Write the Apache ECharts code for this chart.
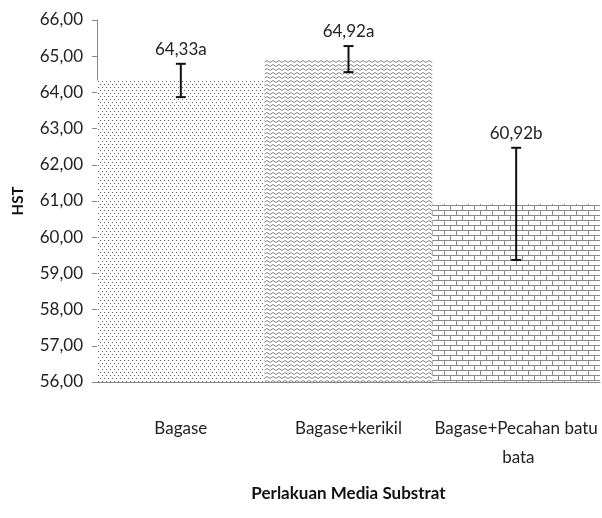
<!DOCTYPE html>
<html><head><meta charset="utf-8">
<script src="https://cdn.jsdelivr.net/npm/echarts@6/dist/echarts.min.js"></script>
<style>html,body{margin:0;padding:0;background:#fff}#c{width:602px;height:518px}</style>
</head><body><div id="c"></div>
<script>
const categories = ['Bagase', 'Bagase+kerikil', 'Bagase+Pecahan batu bata'];
const values = [64.33, 64.92, 60.92];
const errors = [0.46, 0.36, 1.55];
const letters = ['a', 'a', 'b'];
const yTicks = {min: 56, max: 66, interval: 1};

const FONT = 'Lato, "Open Sans", sans-serif';

function makePattern(kind) {
  const c = document.createElement('canvas');
  const ctx = c.getContext('2d');
  if (kind === 'dots') {
    c.width = 4; c.height = 6;
    ctx.fillStyle = '#fff'; ctx.fillRect(0,0,4,6);
    ctx.fillStyle = '#666';
    ctx.fillRect(0,0,1,1); ctx.fillRect(2,3,1,1);
  } else if (kind === 'zigzag') {
    c.width = 6; c.height = 4;
    ctx.fillStyle = '#fff'; ctx.fillRect(0,0,6,4);
    ctx.strokeStyle = '#888'; ctx.lineWidth = 1;
    ctx.beginPath(); ctx.moveTo(0,2.5); ctx.lineTo(3,0.5); ctx.lineTo(6,2.5); ctx.stroke();
  } else {
    c.width = 12; c.height = 10;
    ctx.fillStyle = '#fff'; ctx.fillRect(0,0,12,10);
    ctx.fillStyle = '#8a8a8a';
    ctx.fillRect(0,0,12,1); ctx.fillRect(0,5,12,1);
    ctx.fillRect(0,0,1,5); ctx.fillRect(6,5,1,5);
  }
  return {image: c, repeat: 'repeat'};
}
const patterns = [makePattern('dots'), makePattern('zigzag'), makePattern('brick')];

const errData = values.map((v, i) => [i, v - errors[i], v + errors[i], v.toFixed(2).replace('.', ',') + letters[i]]);

const chart = echarts.init(document.getElementById('c'), null, {renderer: 'canvas'});
chart.setOption({
  animation: false,
  grid: {left: 97, right: 1, top: 20, bottom: 136},
  xAxis: {
    type: 'category', data: categories,
    axisLine: {lineStyle: {color: '#888'}},
    axisTick: {show: false},
    axisLabel: {color: '#222', fontFamily: FONT, fontSize: 17, margin: 32, width: 166, overflow: 'break', lineHeight: 29, interval: 0},
    name: 'Perlakuan Media Substrat', nameLocation: 'middle', nameGap: 103,
    nameTextStyle: {color: '#111', fontFamily: FONT, fontSize: 17, fontWeight: 'bold'}
  },
  yAxis: {
    type: 'value', min: yTicks.min, max: yTicks.max, interval: yTicks.interval,
    axisLine: {show: true, lineStyle: {color: '#888'}},
    axisTick: {show: true, length: 5, lineStyle: {color: '#888'}},
    splitLine: {show: false},
    axisLabel: {color: '#222', fontFamily: FONT, fontSize: 17, margin: 14, formatter: v => v.toFixed(2).replace('.', ',')},
    name: 'HST', nameLocation: 'middle', nameGap: 71, nameRotate: 90,
    nameTextStyle: {color: '#111', fontFamily: FONT, fontSize: 15, fontWeight: 'bold'}
  },
  series: [{
    type: 'bar', barCategoryGap: 0, barGap: 0,
    data: values.map((v, i) => ({value: v, itemStyle: {color: patterns[i]}})),
    z: 1
  }, {
    type: 'custom', data: errData, z: 5,
    renderItem: function (params, api) {
      const x = api.value(0);
      const lo = api.coord([x, api.value(1)]);
      const hi = api.coord([x, api.value(2)]);
      const cap = 5;
      const ls = {stroke: '#111', lineWidth: 2};
      return {type: 'group', children: [
        {type: 'line', shape: {x1: hi[0], y1: hi[1], x2: lo[0], y2: lo[1]}, style: ls},
        {type: 'line', shape: {x1: hi[0]-cap, y1: hi[1], x2: hi[0]+cap, y2: hi[1]}, style: ls},
        {type: 'line', shape: {x1: lo[0]-cap, y1: lo[1], x2: lo[0]+cap, y2: lo[1]}, style: ls},
        {type: 'text', x: hi[0], y: hi[1] - 6, style: {text: api.value(3), fill: '#222', font: '17px ' + FONT, textAlign: 'center', textVerticalAlign: 'bottom'}}
      ]};
    }
  }]
});
</script></body></html>
